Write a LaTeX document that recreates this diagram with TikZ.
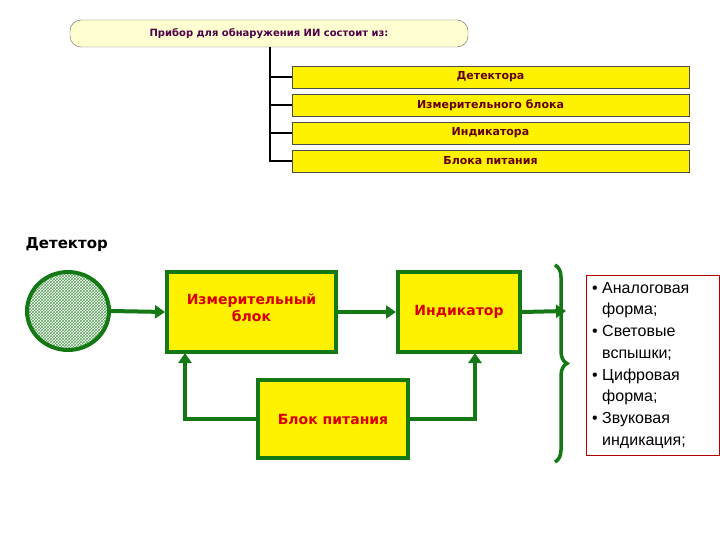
\documentclass[tikz,border=0pt]{standalone}
\usepackage{fontspec}
\setmainfont{DejaVu Sans}
\newfontfamily\lib{Liberation Sans}
\usetikzlibrary{patterns,decorations.pathreplacing,arrows.meta,shapes.geometric}
\definecolor{dgreen}{RGB}{20,120,20}
\definecolor{maroon}{RGB}{100,0,20}
\definecolor{ttl}{RGB}{80,0,70}
\definecolor{lightyel}{RGB}{255,255,210}
\begin{document}
\begin{tikzpicture}[x=1pt,y=-1pt,
 item/.style={draw=black!70,fill=yellow,minimum width=397pt,minimum height=22pt,inner sep=0pt,font=\bfseries\fontsize{11}{12}\selectfont,text=maroon},
 gbox/.style={draw=dgreen,line width=4pt,fill=yellow,inner sep=0pt,font=\bfseries\fontsize{14}{16}\selectfont,text=red!85!black,align=center},
 garr/.style={draw=dgreen,line width=4pt,-{Triangle[length=10pt,width=13pt]}}]
\useasboundingbox (0,0) rectangle (720,540);
\node[draw=black!60,fill=lightyel,rounded corners=11pt,minimum width=398pt,minimum height=27pt,inner sep=0pt,font=\bfseries\fontsize{10}{11}\selectfont,text=ttl] (title) at (269,33.5) {Прибор для обнаружения ИИ состоит из:};
\node[item] (d1) at (490.5,77) {Детектора};
\node[item] (d2) at (490.5,105) {Измерительного блока};
\node[item] (d3) at (490.5,133) {Индикатора};
\node[item] (d4) at (490.5,161) {Блока питания};
\coordinate (t0) at (270,47);
\draw[line width=2pt] (t0) -- (270,161) -- (d4.west);
\draw[line width=2pt] (270,77) -- (d1.west);
\draw[line width=2pt] (270,105) -- (d2.west);
\draw[line width=2pt] (270,133) -- (d3.west);
\node[font=\bfseries\fontsize{15}{17}\selectfont,anchor=west] (det) at (22,245) {Детектор};
\node[draw=dgreen,line width=4pt,ellipse,minimum width=82pt,minimum height=78pt,pattern=crosshatch,pattern color=dgreen!70] (el) at (68,311) {};
\node[gbox,minimum width=169pt,minimum height=80pt] (mb) at (251.5,312) {};
\node[font=\bfseries\fontsize{14}{17}\selectfont,text=red!85!black,align=center] at (251.5,308) {Измерительный\\блок};
\node[gbox,minimum width=122pt,minimum height=80pt] (ind) at (459,312) {Индикатор};
\node[gbox,minimum width=150pt,minimum height=78pt] (pw) at (333,419) {Блок питания};
\coordinate (out) at (566,311);
\draw[garr] (el.east) -- (mb.west);
\draw[garr] (mb.east) -- (ind.west);
\draw[garr] (ind.east) -- (out);
\draw[garr] (pw.west) -| (185,353);
\draw[garr] (pw.east) -| (475,353);
\draw[dgreen,line width=3.5pt,decorate,decoration={brace,amplitude=12pt}] (555,265) -- (555,462);
\node[draw=red!70!black,fill=white,minimum width=133pt,minimum height=180pt,inner sep=0pt] (lst) at (652.5,365) {};
\node[font=\lib\fontsize{16}{21.7}\selectfont,align=left,anchor=north west,inner sep=0pt] (lt) at (592,282) {• Аналоговая\\\hspace*{10pt}форма;\\• Световые\\\hspace*{10pt}вспышки;\\• Цифровая\\\hspace*{10pt}форма;\\• Звуковая\\\hspace*{10pt}индикация;};
\end{tikzpicture}
\end{document}
